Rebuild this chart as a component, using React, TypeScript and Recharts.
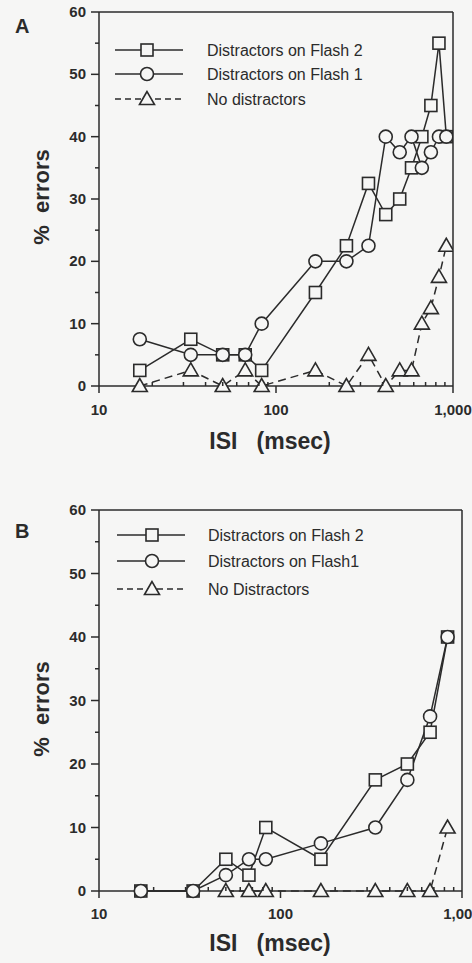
import { LineChart, Line, XAxis, YAxis, ReferenceLine, Legend } from 'recharts'

// ISI values (msec) and % errors
const isiA = [17, 33, 50, 67, 83, 167, 250, 333, 417, 500, 583, 667, 750, 833, 917]
const flash2A = [2.5, 7.5, 5, 5, 2.5, 15, 22.5, 32.5, 27.5, 30, 35, 40, 45, 55, 40]
const flash1A = [7.5, 5, 5, 5, 10, 20, 20, 22.5, 40, 37.5, 40, 35, 37.5, 40, 40]
const noneA = [0, 2.5, 0, 2.5, 0, 2.5, 0, 5, 0, 2.5, 2.5, 10, 12.5, 17.5, 22.5]

const isiB = [17, 33, 50, 67, 83, 167, 333, 500, 667, 833]
const flash2B = [0, 0, 5, 2.5, 10, 5, 17.5, 20, 25, 40]
const flash1B = [0, 0, 2.5, 5, 5, 7.5, 10, 17.5, 27.5, 40]
const isiNoneB = [50, 67, 83, 167, 333, 500, 667, 833]
const noneB = [0, 0, 0, 0, 0, 0, 0, 10]

const legendA = ['Distractors on Flash 2', 'Distractors on Flash 1', 'No distractors']
const legendB = ['Distractors on Flash 2', 'Distractors on Flash1', 'No Distractors']

const xTicks = [10, 20, 30, 40, 50, 60, 70, 80, 90, 100, 200, 300, 400, 500, 600, 700, 800, 900, 1000]
const xMajor = [10, 100, 1000]
const yTicks = [0, 5, 10, 15, 20, 25, 30, 35, 40, 45, 50, 55, 60]

const INK = '#2b2b2b'
const BG = '#f6f6f5'
const FONT = '"Liberation Sans", Arial, sans-serif'

const pts = (xs: number[], ys: number[]) => xs.map((x, i) => ({ x, y: ys[i] }))

type Shape = 'square' | 'circle' | 'triangle'

function Marker({ shape, cx, cy }: { shape: Shape; cx: number; cy: number }) {
  const common = { fill: BG, stroke: INK, strokeWidth: 1.6 }
  if (shape === 'square') return <rect x={cx - 6} y={cy - 6} width={12} height={12} {...common} />
  if (shape === 'circle') return <circle cx={cx} cy={cy} r={6.5} {...common} />
  return <polygon points={`${cx},${cy - 7.5} ${cx - 7.5},${cy + 5.5} ${cx + 7.5},${cy + 5.5}`} {...common} />
}

const dotFor = (shape: Shape) => (p: any) => (
  <Marker key={`${shape}-${p.index}`} shape={shape} cx={p.cx} cy={p.cy} />
)

function XTick(props: any) {
  const { x, y, payload, labelDy } = props
  const v = payload.value
  const major = xMajor.includes(v)
  return (
    <g>
      <line x1={x} x2={x} y1={y} y2={major ? y + 7 : y - 4} stroke={INK} strokeWidth={1.5} />
      {major && (
        <text x={x} y={y + labelDy} textAnchor="middle" fontFamily={FONT} fontWeight="bold" fontSize={15} fill={INK}>
          {v === 1000 ? '1,000' : v}
        </text>
      )}
    </g>
  )
}

function YTick(props: any) {
  const { x, y, payload } = props
  const v = payload.value
  const major = v % 10 === 0
  return (
    <g>
      <line x1={x - (major ? 8 : 4)} x2={x} y1={y} y2={y} stroke={INK} strokeWidth={1.5} />
      {major && (
        <text x={x - 13} y={y + 5} textAnchor="end" fontFamily={FONT} fontWeight="bold" fontSize={15} fill={INK}>
          {v}
        </text>
      )}
    </g>
  )
}

function LegendBox({ names, rows, x0, x1, mx, tx }: { names: string[]; rows: number[]; x0: number; x1: number; mx: number; tx: number }) {
  const shapes: Shape[] = ['square', 'circle', 'triangle']
  return (
    <svg width={472} height={120} style={{ display: 'block' }}>
      {names.map((n, i) => (
        <g key={n}>
          <line x1={x0} x2={x1} y1={rows[i]} y2={rows[i]} stroke={INK} strokeWidth={1.5} strokeDasharray={i === 2 ? '6 4' : undefined} />
          <Marker shape={shapes[i]} cx={mx} cy={rows[i]} />
          <text x={tx} y={rows[i] + 5.5} fontFamily={FONT} fontSize={16} fill={INK}>{n}</text>
        </g>
      ))}
    </svg>
  )
}

function Panel({ letter, top, height, marginTop, marginRight, xAxisHeight, labelDy, titleY, errorsY, letterY, series, legend }: any) {
  return (
    <div style={{ position: 'absolute', left: 0, top }}>
      <LineChart width={472} height={height} margin={{ top: marginTop, right: marginRight, bottom: 0, left: 0 }}>
        <XAxis
          dataKey="x"
          type="number"
          scale="log"
          domain={[10, 1000]}
          allowDataOverflow
          ticks={xTicks}
          interval={0}
          tickSize={0}
          tickMargin={0}
          tickLine={false}
          height={xAxisHeight}
          axisLine={{ stroke: INK, strokeWidth: 1.5 }}
          tick={<XTick labelDy={labelDy} />}
          label={{
            content: () => (
              <text x={270} y={titleY} textAnchor="middle" fontFamily={FONT} fontWeight="bold" fontSize={23} fill={INK} style={{ whiteSpace: 'pre' }}>
                {'ISI   (msec)'}
              </text>
            ),
          }}
        />
        <YAxis
          type="number"
          domain={[0, 60]}
          ticks={yTicks}
          interval={0}
          width={99}
          tickSize={0}
          tickMargin={0}
          tickLine={false}
          axisLine={{ stroke: INK, strokeWidth: 1.5 }}
          tick={<YTick />}
          label={{
            content: () => (
              <g>
                <text x={15} y={letterY} fontFamily={FONT} fontWeight="bold" fontSize={20} fill={INK}>{letter}</text>
                <text
                  x={41}
                  y={errorsY}
                  transform={`rotate(-90 41 ${errorsY})`}
                  dy={8}
                  textAnchor="middle"
                  fontFamily={FONT}
                  fontWeight="bold"
                  fontSize={22}
                  fill={INK}
                  style={{ whiteSpace: 'pre' }}
                >
                  {'%  errors'}
                </text>
              </g>
            ),
          }}
        />
        <ReferenceLine y={60} stroke={INK} strokeWidth={1.5} />
        <ReferenceLine x={1000} stroke={INK} strokeWidth={1.5} />
        <Legend
          layout="horizontal"
          verticalAlign="middle"
          align="center"
          wrapperStyle={{ position: 'absolute', top: 0, left: 0, width: 472, height: 120 }}
          content={() => legend}
        />
        {series.map((s: any) => (
          <Line
            key={s.name}
            name={s.name}
            data={s.data}
            dataKey="y"
            type="linear"
            stroke={INK}
            strokeWidth={1.5}
            strokeDasharray={s.dashed ? '8 5' : undefined}
            dot={dotFor(s.shape)}
            activeDot={false}
            isAnimationActive={false}
          />
        ))}
      </LineChart>
    </div>
  )
}

export default function App() {
  const seriesA = [
    { name: legendA[0], data: pts(isiA, flash2A), shape: 'square' },
    { name: legendA[1], data: pts(isiA, flash1A), shape: 'circle' },
    { name: legendA[2], data: pts(isiA, noneA), shape: 'triangle', dashed: true },
  ]
  const seriesB = [
    { name: legendB[0], data: pts(isiB, flash2B), shape: 'square' },
    { name: legendB[1], data: pts(isiB, flash1B), shape: 'circle' },
    { name: legendB[2], data: pts(isiNoneB, noneB), shape: 'triangle', dashed: true },
  ]
  return (
    <div style={{ position: 'absolute', left: 0, top: 0, width: 472, height: 963, background: BG, overflow: 'hidden' }}>
      <Panel
        letter="A"
        top={0}
        height={470}
        marginTop={12}
        marginRight={19}
        xAxisHeight={84}
        labelDy={29}
        titleY={449}
        errorsY={197}
        letterY={33}
        series={seriesA}
        legend={<LegendBox names={legendA} rows={[50, 74, 99]} x0={115} x1={183} mx={147} tx={207} />}
      />
      <Panel
        letter="B"
        top={490}
        height={473}
        marginTop={20}
        marginRight={10}
        xAxisHeight={72}
        labelDy={28}
        titleY={461}
        errorsY={219}
        letterY={48}
        series={seriesB}
        legend={<LegendBox names={legendB} rows={[45, 71, 99]} x0={117} x1={185} mx={152} tx={208} />}
      />
    </div>
  )
}
